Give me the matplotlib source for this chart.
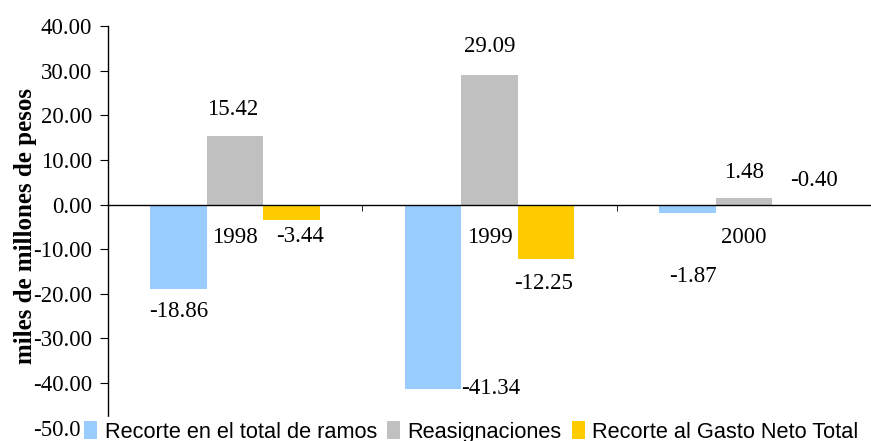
import matplotlib
matplotlib.use("Agg")
import matplotlib.pyplot as plt
from matplotlib.ticker import FormatStrFormatter
import numpy as np

# Recortes y reasignaciones presupuestales por año
years = ["1998", "1999", "2000"]
series_names = ["Recorte en el total de ramos", "Reasignaciones",
                "Recorte al Gasto Neto Total"]
recorte_ramos = [-18.86, -41.34, -1.87]
reasignaciones = [15.42, 29.09, 1.48]
recorte_gasto = [-3.44, -12.25, -0.40]
colors = ["#99CCFF", "#C0C0C0", "#FFCC00"]

# where each value label sits, as (dx, dy) offsets from the bar end, data units
label_offsets = [
    [(0.0, -5.0), (0.228, 0.2), (0.022, -14.2)],     # recorte ramos
    [(-0.01, 5.8), (0.0, 6.25), (0.0, 5.75)],        # reasignaciones
    [(0.033, -3.8), (-0.01, -5.5), (0.053, 5.85)],   # recorte gasto
]

SERIF = "Liberation Serif"
SANS = "Liberation Sans"
FS = 16.5

fig = plt.figure(figsize=(8.71, 4.41), dpi=100)
ax = fig.add_axes([108 / 871, 13.25 / 441, 1 - 108 / 871, (427.75 - 26) / 441])

width = 0.222
x = np.arange(len(years))
all_series = [recorte_ramos, reasignaciones, recorte_gasto]
for k, (vals, color, name) in enumerate(zip(all_series, colors, series_names)):
    pos = x + (k - 1) * width
    ax.bar(pos, vals, width=width, color=color, label=name, zorder=2)
    for xi, v, (dx, dy) in zip(pos, vals, label_offsets[k]):
        ax.text(xi + dx, v + dy, f"{v:.2f}", ha="center", va="center",
                fontsize=FS, family=SERIF)

ax.set_xlim(-0.5, -0.5 + (871 - 108) / 257)
ax.set_ylim(-50, 40)
ax.set_yticks(np.arange(-50, 41, 10))
ax.yaxis.set_major_formatter(FormatStrFormatter("%.2f"))

# category axis crosses at zero
for side in ["top", "right"]:
    ax.spines[side].set_visible(False)
ax.spines["bottom"].set_position(("data", 0))
ax.spines["bottom"].set_linewidth(1.0)
ax.spines["left"].set_linewidth(1.0)

ax.set_xticks(x)
ax.set_xticklabels(years)
ax.set_xticks([0.5, 1.5, 2.5], minor=True)
ax.tick_params(axis="x", which="major", length=0, pad=16)
ax.tick_params(axis="x", which="minor", length=4, direction="out")
ax.tick_params(axis="y", length=5.8, direction="out", pad=5.5)
for lbl in ax.get_xticklabels() + ax.get_yticklabels():
    lbl.set_family(SERIF)
    lbl.set_fontsize(FS)

fig.text(25.5 / 871, 1 - 226 / 441, "miles de millones de pesos", rotation=90,
         ha="center", va="center", fontsize=18, fontweight="bold", family=SERIF)

leg = fig.legend(loc="lower left", bbox_to_anchor=(80 / 871, -6 / 441), ncol=3,
                 frameon=True, fancybox=False, edgecolor="white",
                 facecolor="white", framealpha=1.0,
                 prop={"family": SANS, "size": 15.7},
                 handlelength=0.6, handleheight=0.9, handletextpad=0.33,
                 columnspacing=0.47, borderpad=0.2, borderaxespad=0)

fig.savefig("out.png", dpi=100)
